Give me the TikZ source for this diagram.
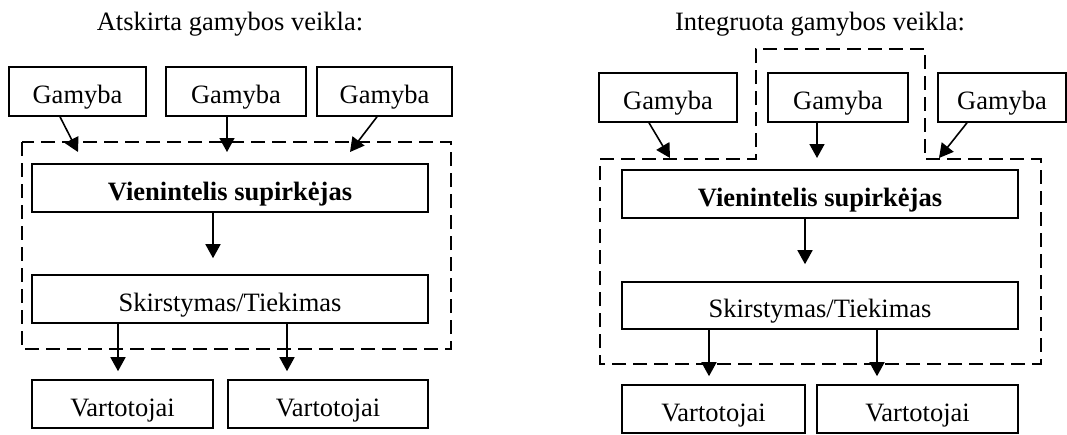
\documentclass[tikz,border=0pt]{standalone}
\usepackage{fontspec}
\setmainfont{Liberation Serif}
\usetikzlibrary{arrows.meta}
\tikzset{
  box/.style={draw, line width=1.6pt, inner sep=0pt, text height=24pt, text depth=0pt, font=\fontsize{26.5}{30}\selectfont},
  arr/.style={line width=1.6pt, -{Triangle[length=14pt,width=15pt]}},
  dashbox/.style={line width=1.6pt, dash pattern=on 14pt off 7pt},
  ttl/.style={font=\fontsize{26.5}{30}\selectfont, anchor=base, inner sep=0pt}
}
\begin{document}
\begin{tikzpicture}[x=1pt,y=-1pt]
\useasboundingbox (0,0) rectangle (1067,434);
% ---------- left ----------
\node[ttl] (t1) at (230,30) {Atskirta gamybos veikla:};
\node[box, minimum width=137pt, minimum height=49pt] (g1) at (77.5,91.5) {Gamyba};
\node[box, minimum width=140pt, minimum height=49pt] (g2) at (236,91.5) {Gamyba};
\node[box, minimum width=135pt, minimum height=49pt] (g3) at (384.5,91.5) {Gamyba};
\draw[dashbox] (22,142) rectangle (451,349);
\node[box, minimum width=396pt, minimum height=48pt, font=\fontsize{26.5}{30}\selectfont\bfseries] (v) at (230,188) {Vienintelis supirkėjas};
\node[box, minimum width=396pt, minimum height=48pt] (s) at (230,299) {Skirstymas/Tiekimas};
\node[box, minimum width=181pt, minimum height=48pt] (c1) at (122.5,404) {Vartotojai};
\node[box, minimum width=200pt, minimum height=48pt] (c2) at (328,404) {Vartotojai};
\coordinate (a1) at (78,152);
\coordinate (a2) at (227,152);
\coordinate (a3) at (350,152);
\draw[arr] ([xshift=-17.5pt]g1.south) -- (a1);
\draw[arr] ([xshift=-9pt]g2.south) -- (a2);
\draw[arr] ([xshift=-7.5pt]g3.south) -- (a3);
\draw[arr, shorten >=16pt] ([xshift=-17pt]v.south) -- ([xshift=-17pt]s.north);
\draw[arr, shorten >=8pt] ([xshift=-4.5pt]s.south -| c1.north) -- ([xshift=-4.5pt]c1.north);
\draw[arr, shorten >=8pt] ([xshift=-41pt]s.south -| c2.north) -- ([xshift=-41pt]c2.north);
% ---------- right ----------
\node[ttl] (t2) at (820,30) {Integruota gamybos veikla:};
\node[box, minimum width=138pt, minimum height=49pt] (G1) at (668,97.5) {Gamyba};
\node[box, minimum width=140pt, minimum height=49pt] (G2) at (838,97.5) {Gamyba};
\node[box, minimum width=128pt, minimum height=49pt] (G3) at (1002,97.5) {Gamyba};
\draw[dashbox] (600,159) -- (756,159) -- (756,49) -- (925,49) -- (925,159) -- (1041,159) -- (1041,364) -- (600,364) -- cycle;
\node[box, minimum width=396pt, minimum height=48pt, font=\fontsize{26.5}{30}\selectfont\bfseries] (V) at (820,194) {Vienintelis supirkėjas};
\node[box, minimum width=396pt, minimum height=47pt] (S) at (820,305.5) {Skirstymas/Tiekimas};
\node[box, minimum width=183pt, minimum height=48pt] (C1) at (713.5,409) {Vartotojai};
\node[box, minimum width=201pt, minimum height=48pt] (C2) at (917.5,409) {Vartotojai};
\coordinate (A1) at (670,158);
\coordinate (A2) at (817,158);
\coordinate (A3) at (939,158);
\draw[arr] ([xshift=-19pt]G1.south) -- (A1);
\draw[arr] ([xshift=-21pt]G2.south) -- (A2);
\draw[arr] ([xshift=-35pt]G3.south) -- (A3);
\draw[arr, shorten >=17pt] ([xshift=-15pt]V.south) -- ([xshift=-15pt]S.north);
\draw[arr, shorten >=8pt] ([xshift=-4.5pt]S.south -| C1.north) -- ([xshift=-4.5pt]C1.north);
\draw[arr, shorten >=8pt] ([xshift=-40.5pt]S.south -| C2.north) -- ([xshift=-40.5pt]C2.north);
\end{tikzpicture}
\end{document}
